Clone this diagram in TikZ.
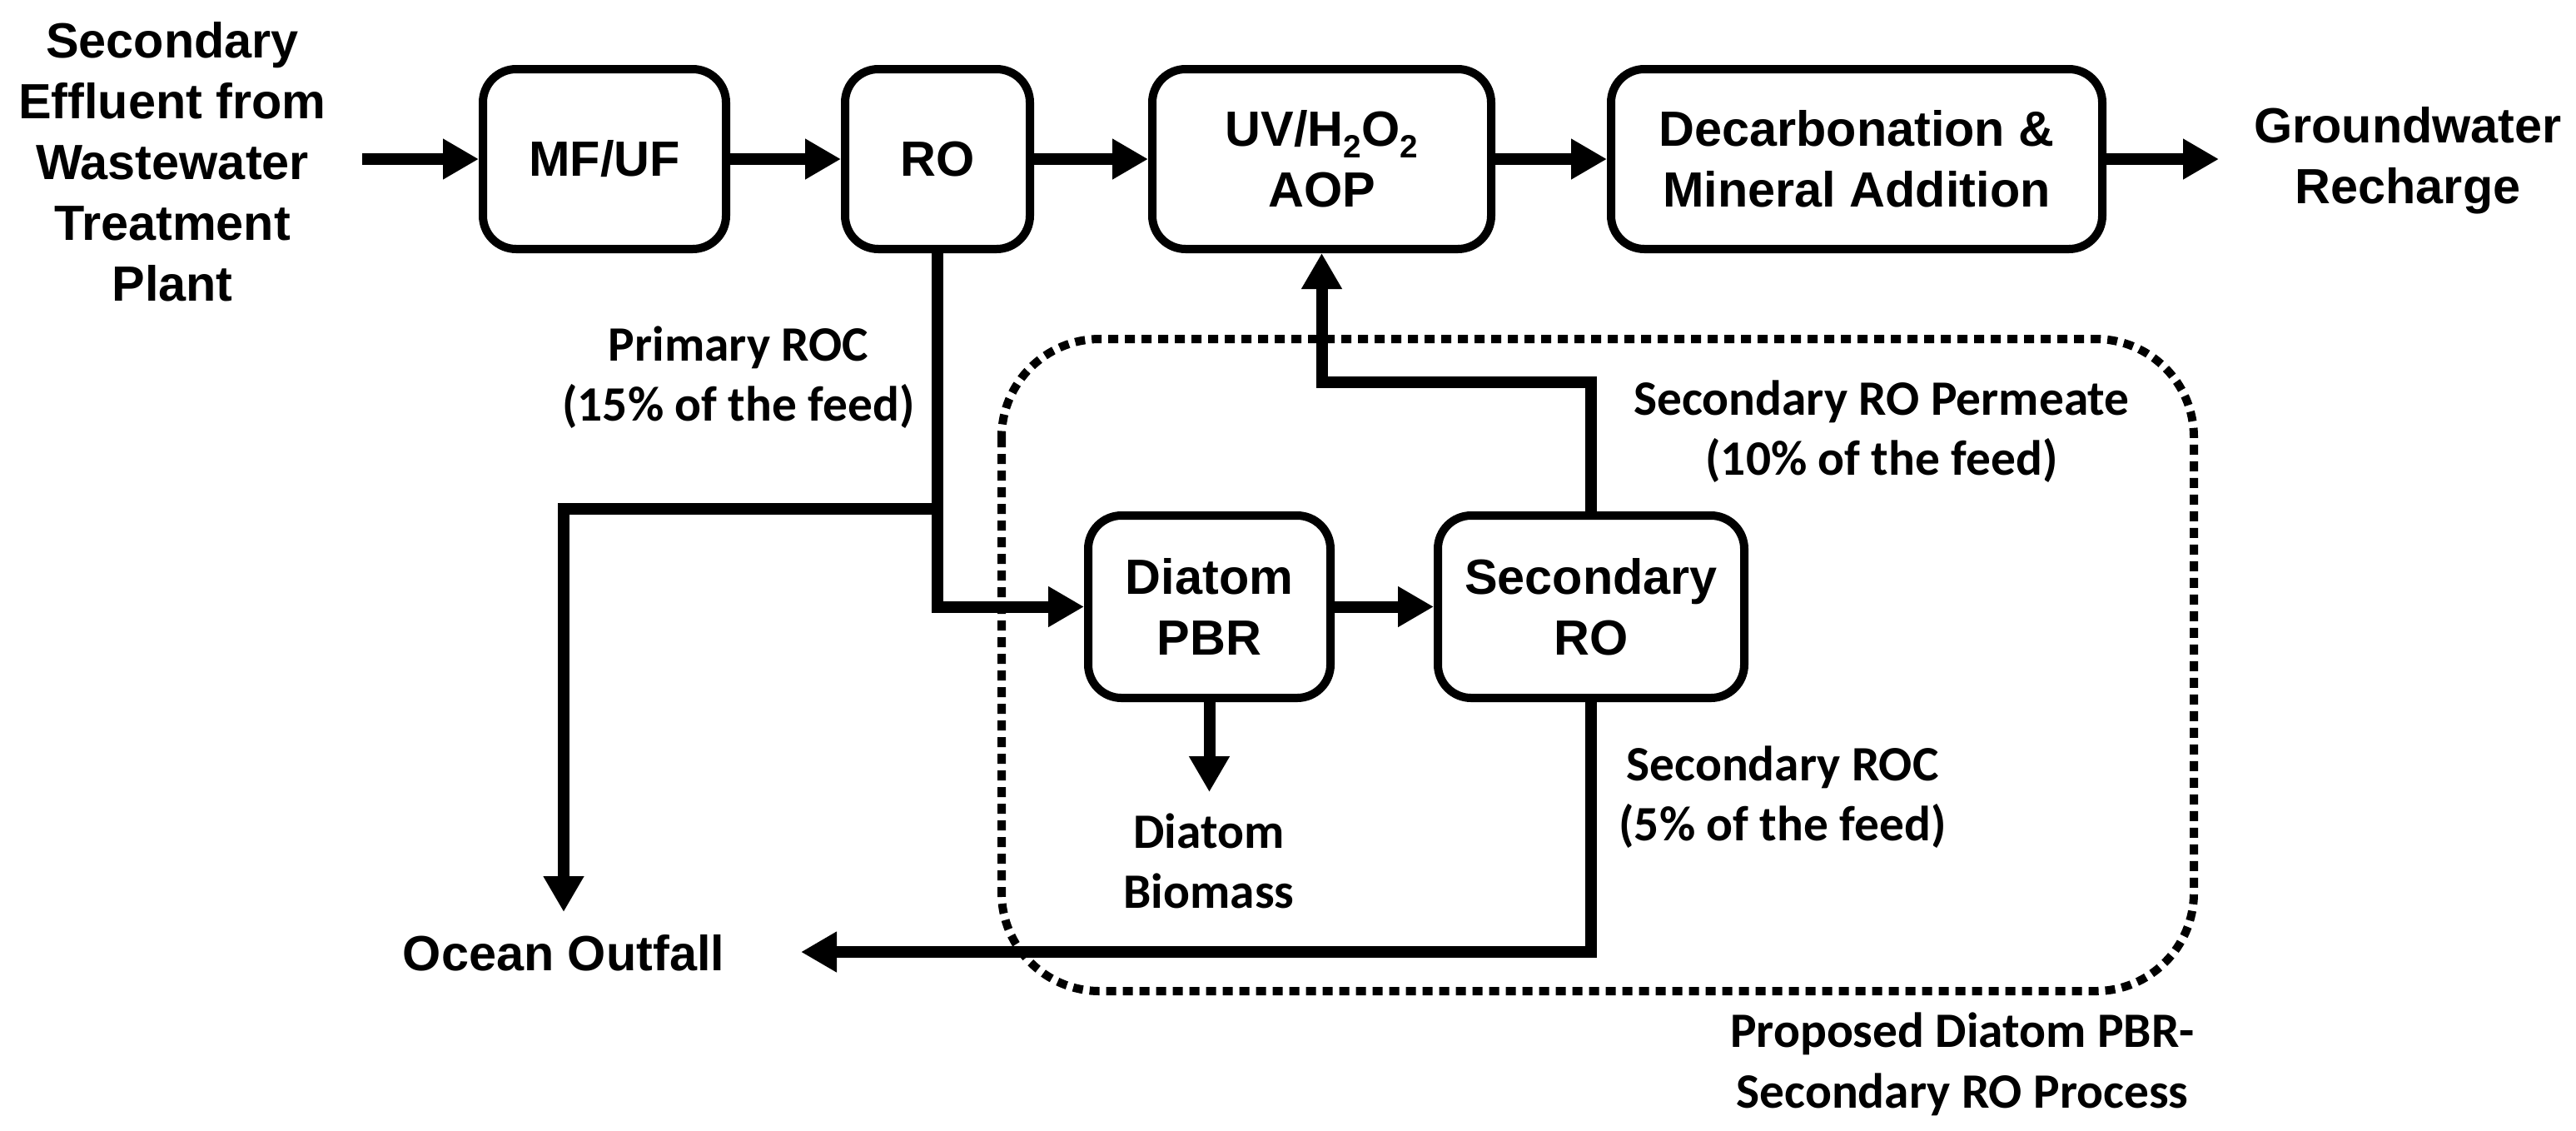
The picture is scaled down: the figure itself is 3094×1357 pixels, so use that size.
\documentclass[tikz,border=0pt]{standalone}
\usepackage{fontspec}
\setmainfont{Liberation Sans}
\newfontfamily\labfont{Carlito}
\usetikzlibrary{arrows.meta,calc}
\newcommand{\subtwo}{\raisebox{-4pt}{\fontsize{11}{11}\selectfont 2}}
\begin{document}
\begin{tikzpicture}[x=0.1mm,y=-0.1mm,
  every node/.style={font=\fontsize{16.9}{20.8}\selectfont\bfseries, align=center, inner sep=0pt},
  box/.style={draw, line width=1mm, rounded corners=4mm, minimum height=21.6mm, inner sep=0pt},
  conn/.style={line width=1.4mm},
  arr/.style={conn, -{Triangle[length=4.3mm,width=4.6mm]}},
  lab/.style={font=\labfont\fontsize{16.9}{20.6}\selectfont\bfseries},
  dotbox/.style={line width=1mm, dash pattern=on 1.2mm off 0.8mm, rounded corners=11.8mm}]
\useasboundingbox (0,0) rectangle (3094,1357);
% process region
\draw[dotbox] (1203,407) rectangle (2635,1190);
% boxes
\node[box, minimum width=29.2mm] (mf) at (726,191) {MF/UF};
\node[box, minimum width=22.2mm] (ro) at (1126,191) {RO};
\node[box, minimum width=40.7mm] (aop) at (1587.5,191) {UV/H\subtwo O\subtwo\\AOP};
\node[box, minimum width=59mm] (dec) at (2230,191) {Decarbonation \&\\Mineral Addition};
\node[box, minimum width=29.1mm, minimum height=21.9mm] (pbr) at (1452.5,728.5) {Diatom\\PBR};
\node[box, minimum width=36.8mm, minimum height=21.9mm] (sro) at (1911,728.5) {Secondary\\RO};
% terminals
\node (src) at (207,194) {Secondary\\Effluent from\\Wastewater\\Treatment\\Plant};
\node (gw) at (2892,193) {Groundwater\\Recharge};
\node (ocean) at (677,1144) {Ocean Outfall};
% labels
\node[lab] (bio) at (1452,1034) {Diatom\\Biomass};
\node[lab] (proc) at (887,453) {Primary ROC\\(15\% of the feed)};
\node[lab] (perm) at (2260,518) {Secondary RO Permeate\\(10\% of the feed)};
\node[lab] (sroc) at (2141,957) {Secondary ROC\\(5\% of the feed)};
\node[lab] (prop) at (2357,1278) {Proposed Diatom PBR-\\Secondary RO Process};
% connectors
\coordinate (inpt) at (435,191);
\coordinate (gwin) at (2665,191);
\coordinate (j) at (1126,611);
\coordinate (oceantop) at (677,1095);
\coordinate (biotop) at (1452.5,951);
\coordinate (permbend) at (1911,459);
\coordinate (oceanright) at (962,1143);
\draw[arr] (inpt) -- (mf.west);
\draw[arr] (mf.east) -- (ro.west);
\draw[arr] (ro.east) -- (aop.west);
\draw[arr] (aop.east) -- (dec.west);
\draw[arr] (dec.east) -- (gwin);
\draw[arr] (ro.south) |- (pbr.west);
\draw[arr] (j) -| (oceantop);
\draw[arr] (pbr.east) -- (sro.west);
\draw[arr] (pbr.south) -- (biotop);
\draw[arr] (sro.north) -- (permbend) -| (aop.south);
\draw[arr] (sro.south) |- (oceanright);
\end{tikzpicture}
\end{document}
